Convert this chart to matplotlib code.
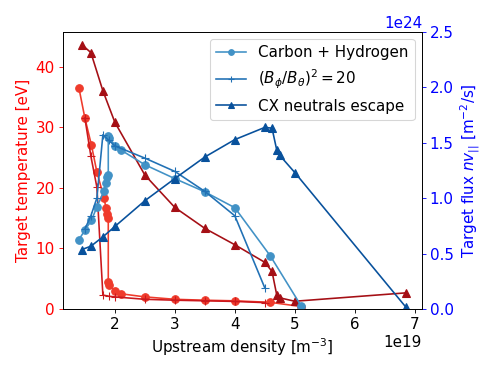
import matplotlib
matplotlib.use("Agg")
import matplotlib.pyplot as plt
import numpy as np

# Carbon + Hydrogen
x_ch = [1.40, 1.50, 1.61, 1.70, 1.82, 1.85, 1.87, 1.89, 1.89, 1.91, 2.01, 2.11, 2.5, 3.0, 3.5, 4.0, 4.59, 5.11]
T_ch = [36.5, 31.5, 27.0, 22.6, 18.3, 16.7, 15.6, 15.0, 4.4, 3.9, 2.9, 2.5, 2.0, 1.6, 1.45, 1.35, 1.1, 0.4]
F_ch = [0.625, 0.71, 0.80, 0.92, 1.065, 1.14, 1.19, 1.21, 1.556, 1.54, 1.47, 1.43, 1.30, 1.175, 1.056, 0.913, 0.48, 0.024]

# (B_phi/B_theta)^2 = 20
x_b = [1.5, 1.6, 1.7, 1.8, 1.9, 2.0, 2.5, 3.0, 3.5, 4.0, 4.5]
T_b = [31.5, 25.2, 20.1, 2.3, 2.1, 2.0, 1.6, 1.45, 1.35, 1.25, 1.05]
F_b = [0.72, 0.84, 1.0, 1.57, 1.52, 1.47, 1.36, 1.24, 1.06, 0.84, 0.19]

# CX neutrals escape
x_cx = [1.45, 1.6, 1.8, 2.0, 2.5, 3.0, 3.5, 4.0, 4.5, 4.62, 4.7, 4.75, 5.0, 6.85]
T_cx = [43.6, 42.3, 36.0, 30.8, 22.1, 16.75, 13.3, 10.6, 7.7, 6.2, 2.26, 1.84, 1.28, 2.66]
F_cx = [0.536, 0.566, 0.65, 0.744, 0.976, 1.176, 1.37, 1.527, 1.637, 1.63, 1.43, 1.384, 1.23, 0.018]

plt.rcParams['font.size'] = 14
fig, ax = plt.subplots(figsize=(498/78, 374/78), dpi=78)
ax2 = ax.twinx()

reds = ['#ef3b2c', '#cb181d', '#a50f15']
blues = ['#4292c6', '#2171b5', '#08519c']
ms = 7

ax.plot(np.array(x_ch)*1e19, T_ch, 'o-', color=reds[0], ms=ms)
ax.plot(np.array(x_b)*1e19, T_b, '+-', color=reds[1], ms=ms)
ax.plot(np.array(x_cx)*1e19, T_cx, '^-', color=reds[2], ms=ms)

ax2.plot(np.array(x_ch)*1e19, np.array(F_ch)*1e24, 'o-', color=blues[0], ms=ms, label='Carbon + Hydrogen')
ax2.plot(np.array(x_b)*1e19, np.array(F_b)*1e24, '+-', color=blues[1], ms=ms, label=r'$(B_\phi/B_\theta)^2 = 20$')
ax2.plot(np.array(x_cx)*1e19, np.array(F_cx)*1e24, '^-', color=blues[2], ms=ms, label='CX neutrals escape')

ax.set_ylim(bottom=0)
ax2.set_ylim(0, 2.5e24)
ax.set_xlabel('Upstream density [m$^{-3}$]')
ax.set_ylabel('Target temperature [eV]', color='red')
ax2.set_ylabel(r'Target flux $nv_{||}$ [m$^{-2}$/s]', color='blue')
ax.tick_params(axis='y', colors='red')
ax2.tick_params(axis='y', colors='blue')
ax2.yaxis.get_offset_text().set_color('blue')
ax2.legend(loc='upper right', markerscale=0.75)

fig.tight_layout()
fig.savefig('out.png', dpi=78)
